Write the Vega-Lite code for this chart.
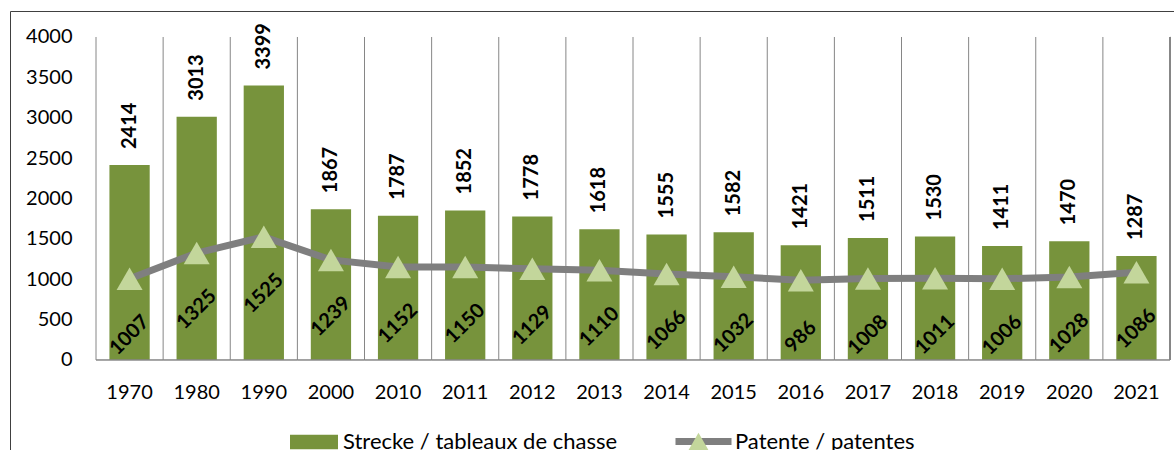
{
  "$schema": "https://vega.github.io/schema/vega-lite/v6.json",
  "autosize": {"type": "none"},
  "padding": {"left": 10, "top": 11, "right": 0, "bottom": 0},
  "width": 1164,
  "height": 439,
  "background": "white",
  "config": {
    "view": {"stroke": "#404040", "strokeWidth": 1},
    "font": "Lato",
    "axis": {"labelFont": "Lato", "labelFontSize": 20, "labelFontWeight": "normal", "labelColor": "#000000"},
    "legend": {"labelFont": "Lato", "labelFontSize": 22, "labelFontWeight": "normal", "labelColor": "#000000", "title": null, "padding": 0, "labelLimit": 500}
  },
  "data": {
    "values": [
      {"year": "1970", "strecke": 2414, "patente": 1007},
      {"year": "1980", "strecke": 3013, "patente": 1325},
      {"year": "1990", "strecke": 3399, "patente": 1525},
      {"year": "2000", "strecke": 1867, "patente": 1239},
      {"year": "2010", "strecke": 1787, "patente": 1152},
      {"year": "2011", "strecke": 1852, "patente": 1150},
      {"year": "2012", "strecke": 1778, "patente": 1129},
      {"year": "2013", "strecke": 1618, "patente": 1110},
      {"year": "2014", "strecke": 1555, "patente": 1066},
      {"year": "2015", "strecke": 1582, "patente": 1032},
      {"year": "2016", "strecke": 1421, "patente": 986},
      {"year": "2017", "strecke": 1511, "patente": 1008},
      {"year": "2018", "strecke": 1530, "patente": 1011},
      {"year": "2019", "strecke": 1411, "patente": 1006},
      {"year": "2020", "strecke": 1470, "patente": 1028},
      {"year": "2021", "strecke": 1287, "patente": 1086}
    ]
  },
  "layer": [
    {
      "mark": {"type": "bar", "width": {"band": 0.6}, "color": "#77933C"},
      "encoding": {
        "x": {
          "field": "year", "type": "nominal", "sort": null,
          "scale": {"paddingInner": 0, "paddingOuter": 0.6704, "align": 0.9556},
          "axis": {"orient": "bottom", "offset": -90, "domain": false, "ticks": false, "tickSize": 0, "grid": false, "labelPadding": 22, "labelAngle": 0, "title": null}
        },
        "y": {
          "field": "strecke", "type": "quantitative",
          "scale": {"domain": [-1115, 4322], "nice": false, "zero": false},
          "axis": {"orient": "left", "offset": -86, "values": [0, 500, 1000, 1500, 2000, 2500, 3000, 3500, 4000], "format": "d", "domain": false, "ticks": false, "tickSize": 0, "grid": false, "labelPadding": 24, "title": null}
        },
        "fill": {
          "datum": "Strecke / tableaux de chasse",
          "scale": {"range": ["#77933C"]},
          "legend": {"orient": "none", "legendX": 280, "legendY": 407, "symbolType": "M-1,-0.3H1V0.3H-1Z", "symbolSize": 2304, "symbolStrokeWidth": 0, "labelOffset": 5}
        }
      }
    },
    {
      "mark": {"type": "rule", "color": "#868686", "strokeWidth": 1},
      "encoding": {
        "x": {"field": "year", "type": "nominal", "sort": null, "bandPosition": 0},
        "y": {"datum": 0, "type": "quantitative"},
        "y2": {"datum": 4000}
      }
    },
    {
      "mark": {"type": "rule", "color": "#868686", "strokeWidth": 1},
      "encoding": {
        "x": {"datum": "2021", "type": "nominal", "bandPosition": 1},
        "y": {"datum": 0, "type": "quantitative"},
        "y2": {"datum": 4000}
      }
    },
    {
      "mark": {"type": "bar", "width": {"band": 1}, "fill": null, "stroke": "#868686", "strokeWidth": 1},
      "encoding": {
        "x": {"field": "year", "type": "nominal", "sort": null},
        "y": {"datum": 0, "type": "quantitative"},
        "y2": {"datum": 0}
      }
    },
    {
      "mark": {"type": "text", "angle": 270, "align": "left", "baseline": "middle", "dx": 16, "fontSize": 20, "fontWeight": "bold", "color": "#000000"},
      "encoding": {
        "x": {"field": "year", "type": "nominal", "sort": null},
        "y": {"field": "strecke", "type": "quantitative"},
        "text": {"field": "strecke", "type": "quantitative"}
      }
    },
    {
      "mark": {"type": "line", "strokeWidth": 7, "color": "#7F7F7F"},
      "encoding": {
        "x": {"field": "year", "type": "nominal", "sort": null},
        "y": {"field": "patente", "type": "quantitative"},
        "stroke": {
          "datum": "Patente / patentes",
          "scale": {"range": ["#7F7F7F"]},
          "legend": {"orient": "none", "legendX": 662, "legendY": 399, "symbolType": "stroke", "symbolSize": 3136, "symbolStrokeWidth": 7, "labelOffset": 0}
        }
      }
    },
    {
      "mark": {"type": "point", "filled": true, "size": 676, "color": "#C3D69B", "opacity": 1, "strokeWidth": 0},
      "encoding": {
        "x": {"field": "year", "type": "nominal", "sort": null},
        "y": {"field": "patente", "type": "quantitative"},
        "shape": {
          "datum": "Patente / patentes ",
          "scale": {"range": ["triangle-up"]},
          "legend": {"orient": "none", "legendX": 677, "legendY": 420, "labelExpr": "''", "symbolSize": 500, "symbolFillColor": "#C3D69B", "symbolStrokeWidth": 0, "symbolOpacity": 1}
        }
      }
    },
    {
      "mark": {"type": "text", "angle": 315, "align": "center", "baseline": "middle", "dx": -40, "dy": 40, "fontSize": 20, "fontWeight": "bold", "color": "#000000"},
      "encoding": {
        "x": {"field": "year", "type": "nominal", "sort": null},
        "y": {"field": "patente", "type": "quantitative"},
        "text": {"field": "patente", "type": "quantitative"}
      }
    }
  ]
}
